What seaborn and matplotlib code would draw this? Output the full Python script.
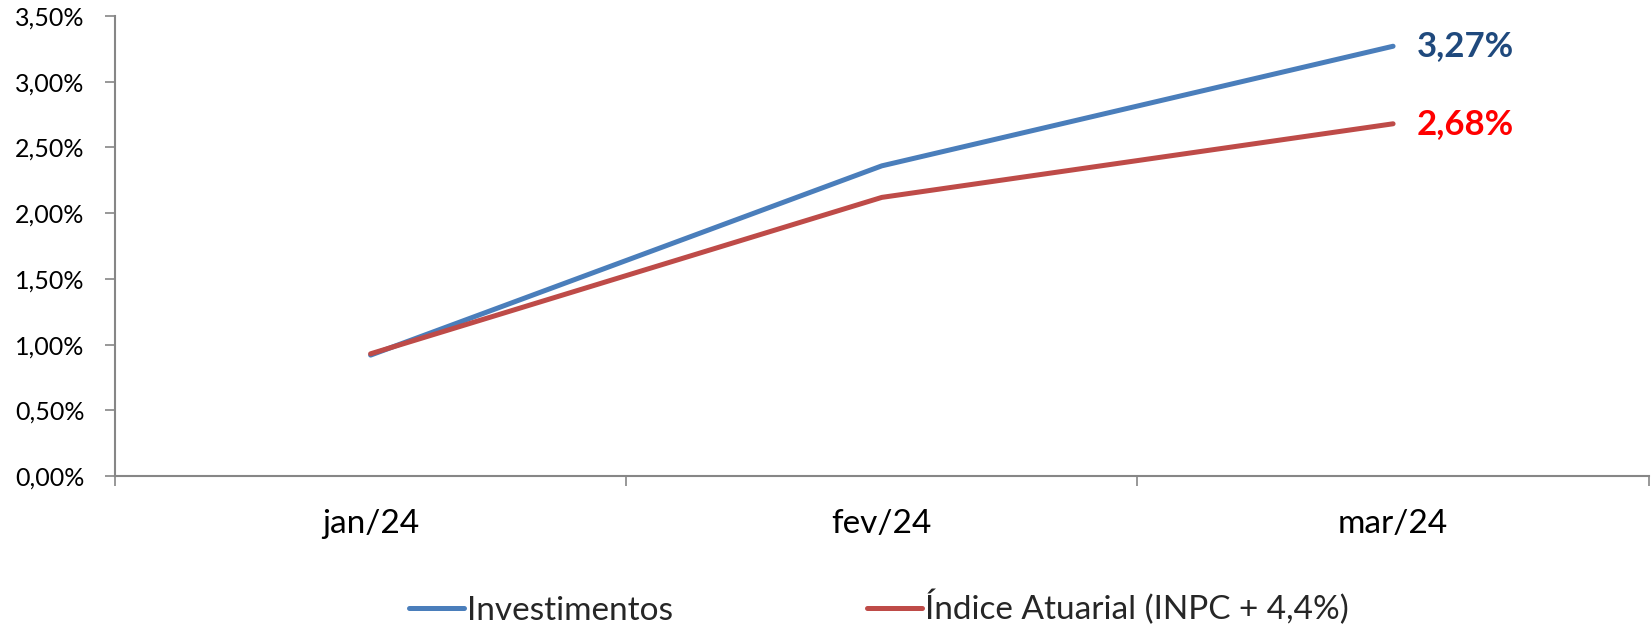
import pandas as pd
import matplotlib.pyplot as plt
import seaborn as sns
from matplotlib.ticker import FuncFormatter, FixedLocator

# dados
meses = ["jan/24", "fev/24", "mar/24"]
investimentos = [0.92, 2.36, 3.27]
indice_atuarial = [0.93, 2.12, 2.68]
series = ["Investimentos", "Índice Atuarial (INPC + 4,4%)"]

df = pd.DataFrame({
    "mes": meses * 2,
    "valor": investimentos + indice_atuarial,
    "serie": [series[0]] * 3 + [series[1]] * 3,
})

sns.set_theme(style="white")
plt.rcParams["font.family"] = ["Lato", "DejaVu Sans"]

c_blue = "#4A7EBB"
c_red = "#BE4B48"
c_axis = "#868686"

fig = plt.figure(figsize=(16.52, 6.30), dpi=100)
ax = fig.add_axes([0.0696, 0.2444, 0.9284, 0.7302])

sns.lineplot(data=df, x="mes", y="valor", hue="serie", palette=[c_blue, c_red],
             linewidth=3.6, ax=ax, legend=False, sort=False)

ax.set_ylim(0, 3.5)
ax.set_xlim(-0.5, 2.5)
ax.set_yticks([i * 0.5 for i in range(8)])
ax.yaxis.set_major_formatter(FuncFormatter(lambda v, p: f"{v:.2f}%".replace(".", ",")))
ax.set_xlabel("")
ax.set_ylabel("")

# ticks entre categorias
ax.xaxis.set_minor_locator(FixedLocator([-0.5, 0.5, 1.5, 2.5]))
ax.tick_params(axis="x", which="major", length=0, pad=24, labelsize=24, colors="black")
ax.tick_params(axis="x", which="minor", length=7, width=1.2, color=c_axis, direction="out", bottom=True)
ax.tick_params(axis="y", which="major", length=7, width=1.2, color=c_axis, direction="out",
               left=True, labelsize=18, labelcolor="black", pad=15)

for s in ["top", "right"]:
    ax.spines[s].set_visible(False)
for s in ["left", "bottom"]:
    ax.spines[s].set_color(c_axis)
    ax.spines[s].set_linewidth(1.5)

# rótulos finais
ax.text(2 + 0.047, investimentos[-1], f"{investimentos[-1]:.2f}%".replace(".", ","),
        color="#1F497D", fontsize=25, fontweight="bold", va="center", ha="left")
ax.text(2 + 0.047, indice_atuarial[-1], f"{indice_atuarial[-1]:.2f}%".replace(".", ","),
        color="#FF0000", fontsize=25, fontweight="bold", va="center", ha="left")

handles = [plt.Line2D([], [], color=c_blue, lw=3.6),
           plt.Line2D([], [], color=c_red, lw=3.6)]
fig.legend(handles, series, loc="center", bbox_to_anchor=(0.532, 0.035), ncol=2,
           frameon=False, fontsize=24, handlelength=1.65, handletextpad=0.1,
           columnspacing=5.8)

fig.savefig("out.png", dpi=100)
